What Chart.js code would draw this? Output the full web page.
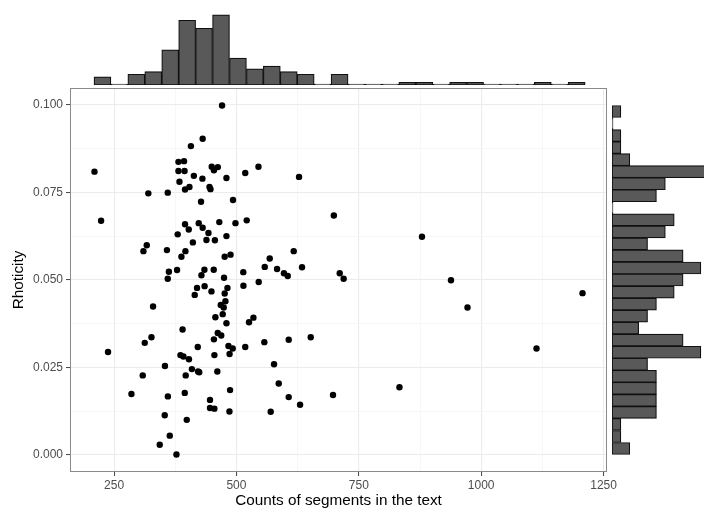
<!DOCTYPE html>
<html><head><meta charset="utf-8">
<script src="https://cdn.jsdelivr.net/npm/chart.js@4.4.0/dist/chart.umd.min.js"></script>
<style>
html,body{margin:0;padding:0;background:#fff;}
#wrap{position:relative;width:704px;height:512px;overflow:hidden;}
canvas{position:absolute;left:0;top:0;}
</style></head><body>
<div id="wrap">
<canvas id="main" width="704" height="512"></canvas>
<canvas id="top" width="704" height="512"></canvas>
<canvas id="right" width="704" height="512"></canvas>
</div>
<script>
// ---- scatter data ----
const segmentCounts = [
 470.6,431,407,210,381.5,393,381.5,394,413,430.5,449.5,454,462,479.6,518,383.6,395,404,445,447,
 320,359.7,427.7,493,223.5,395,402.6,423,431,442.8,465,498,380,411,438.7,456,479.6,316.8,310,358,
 395.8,387.6,476,488,362,359.7,378.7,434.6,428.5,453.6,474.7,514,
 545,627.9,521,699,617,568,557.8,583,597,604.8,634,711,719,545.5,
 514.3,419.5,435,414.8,449,481.6,476,477.5,329.7,468,474,472,457,479.6,390,461.8,469,454,326.4,312.7,
 237.7,421,483.7,492.4,455,486,385.6,391.7,403,354,409,421.6,424,396.4,461,308.6,285.5,360,394.4,487,
 446,446,455,485.7,353.5,398.5,363.8,343.3,377.5,
 534.7,525.7,557,606.8,651.8,518,576.8,586.4,606.8,630,570,697.3,833,
 879,938.3,972,1113,1207
];
const rhoticity = [
 0.0998,0.0903,0.0882,0.0809,0.0837,0.0839,0.0811,0.0811,0.0797,0.0789,0.0823,0.0813,0.0822,0.0791,0.0805,0.0780,0.0758,0.0765,0.0765,0.0759,
 0.0747,0.0749,0.0723,0.0728,0.0669,0.0659,0.0644,0.0662,0.0649,0.0634,0.0665,0.0662,0.0630,0.0607,0.0614,0.0613,0.0625,0.0599,0.0582,0.0585,
 0.0582,0.0566,0.0566,0.0572,0.0523,0.0503,0.0528,0.0529,0.0513,0.0529,0.0506,0.0522,
 0.0823,0.0794,0.0670,0.0684,0.0582,0.0561,0.0537,0.0531,0.0519,0.0511,0.0536,0.0519,0.0503,0.0494,
 0.0483,0.0477,0.0482,0.0457,0.0467,0.0477,0.0461,0.0439,0.0424,0.0428,0.0421,0.0402,0.0393,0.0376,0.0358,0.0348,0.0341,0.0330,0.0336,0.0320,
 0.0294,0.0308,0.0311,0.0304,0.0285,0.0288,0.0285,0.0281,0.0273,0.0254,0.0245,0.0238,0.0236,0.0227,0.0238,0.0227,0.0174,0.0167,0.0177,0.0185,
 0.0157,0.0134,0.0132,0.0124,0.0113,0.0100,0.0055,0.0029,0.0001,
 0.0392,0.0379,0.0322,0.0329,0.0336,0.0308,0.0259,0.0204,0.0165,0.0143,0.0123,0.0171,0.0193,
 0.0623,0.0499,0.0421,0.0304,0.0462
];
// ---- marginal histogram of segment counts (top) ----
const countBinStart = 209;
const countBinWidth = 34.6;
const countHist = [3,0,4,5,13,24,21,26,10,6,7,5,4,0,4,0,0,0,1,1,0,1,1,0,0,0,1,0,1];
// ---- marginal histogram of rhoticity (right), bottom to top ----
const rhoBinStart = 0.0001;
const rhoBinWidth = 0.003438;
const rhoHist = [2,1,1,5,5,5,5,4,10,8,3,4,5,7,8,10,8,4,6,7,0,5,6,14,2,1,1,0,1];
// ---- axes ----
const xMajorTicks = [250,500,750,1000,1250];
const xMinorTicks = [375,625,875,1125];
const yMajorTicks = [0,0.025,0.05,0.075,0.1];
const yMinorTicks = [0.0125,0.0375,0.0625,0.0875];
const xRange = [160,1257];
const yRange = [-0.00489,0.1048];
const xTitle = 'Counts of segments in the text';
const yTitle = 'Rhoticity';

const FONT = "'Liberation Sans', Arial, Helvetica, sans-serif";
const xGridTicks = [...xMajorTicks, ...xMinorTicks].sort((a,b)=>a-b);
const yGridTicks = [...yMajorTicks, ...yMinorTicks].sort((a,b)=>a-b);
const isMajor = (arr, v) => arr.some(t => Math.abs(t - v) < 1e-9);

const common = {
  responsive:false, animation:false, events:[],
  plugins:{legend:{display:false}, tooltip:{enabled:false}}
};

const panelBorder = {
  id:'panelBorder',
  afterDatasetsDraw(chart){
    const a = chart.chartArea, c = chart.ctx;
    c.save(); c.strokeStyle = '#8a8a8a'; c.lineWidth = 1;
    c.strokeRect(Math.round(a.left)+0.5, Math.round(a.top)+0.5, Math.round(a.right-a.left)-1, Math.round(a.bottom-a.top)-1);
    c.restore();
  }
};

new Chart(document.getElementById('main'), {
  type:'scatter',
  data:{datasets:[{
    data: segmentCounts.map((x,i)=>({x, y: rhoticity[i]})),
    backgroundColor:'#000', borderWidth:0, pointRadius:3.2
  }]},
  options:{...common,
    layout:{padding:{top:88, right:97, left:0, bottom:0}},
    scales:{
      x:{type:'linear', min:xRange[0], max:xRange[1],
        afterBuildTicks: s => { s.ticks = xGridTicks.map(v=>({value:v})); },
        afterFit: s => { s.height = 40; },
        border:{display:false},
        grid:{
          color: c => isMajor(xMajorTicks, c.tick.value) ? '#ebebeb' : '#f3f3f3',
          lineWidth: c => isMajor(xMajorTicks, c.tick.value) ? 1.1 : 0.7,
          tickColor: c => isMajor(xMajorTicks, c.tick.value) ? '#444' : 'rgba(0,0,0,0)',
          tickLength:4, tickWidth:1
        },
        ticks:{autoSkip:false, maxRotation:0, padding:2, color:'#4d4d4d',
          font:{family:FONT, size:12},
          callback: v => isMajor(xMajorTicks, v) ? String(v) : ''},
        title:{display:true, text:xTitle, color:'#000', font:{family:FONT, size:15.3}, padding:{top:0,bottom:2.5}}
      },
      y:{type:'linear', min:yRange[0], max:yRange[1],
        afterBuildTicks: s => { s.ticks = yGridTicks.map(v=>({value:v})); },
        afterFit: s => { s.width = 70; },
        border:{display:false},
        grid:{
          color: c => isMajor(yMajorTicks, c.tick.value) ? '#ebebeb' : '#f3f3f3',
          lineWidth: c => isMajor(yMajorTicks, c.tick.value) ? 1.1 : 0.7,
          tickColor: c => isMajor(yMajorTicks, c.tick.value) ? '#444' : 'rgba(0,0,0,0)',
          tickLength:4, tickWidth:1
        },
        ticks:{autoSkip:false, padding:3, color:'#4d4d4d',
          font:{family:FONT, size:12},
          callback: v => isMajor(yMajorTicks, v) ? v.toFixed(3) : ''},
        title:{display:true, text:yTitle, color:'#000', font:{family:FONT, size:15.3}, padding:{top:10,bottom:0}}
      }
    }
  },
  plugins:[panelBorder]
});

const barStyle = {backgroundColor:'#595959', borderColor:'#111', borderWidth:1.2,
  borderSkipped:false, barPercentage:1, categoryPercentage:1, minBarLength:1};

new Chart(document.getElementById('top'), {
  type:'bar',
  data:{datasets:[{...barStyle,
    data: countHist.map((n,i)=>({x: countBinStart + (i+0.5)*countBinWidth, y:n}))}]},
  options:{...common,
    layout:{padding:{top:0, right:97, left:70, bottom:427}},
    scales:{
      x:{type:'linear', display:false, offset:false, min:xRange[0], max:xRange[1],
         afterBuildTicks: s => { s.ticks = xGridTicks.map(v=>({value:v})); }},
      y:{type:'linear', display:false, min:0, max:31.5}
    }
  }
});

new Chart(document.getElementById('right'), {
  type:'bar',
  data:{datasets:[{...barStyle,
    data: rhoHist.map((n,i)=>({y: rhoBinStart + (i+0.5)*rhoBinWidth, x:n}))}]},
  options:{...common, indexAxis:'y',
    layout:{padding:{top:88, right:0, left:612, bottom:40}},
    scales:{
      y:{type:'linear', display:false, offset:false, min:yRange[0], max:yRange[1],
         afterBuildTicks: s => { s.ticks = yGridTicks.map(v=>({value:v})); }},
      x:{type:'linear', display:false, min:0, max:10.35}
    }
  }
});
</script>
</body></html>
